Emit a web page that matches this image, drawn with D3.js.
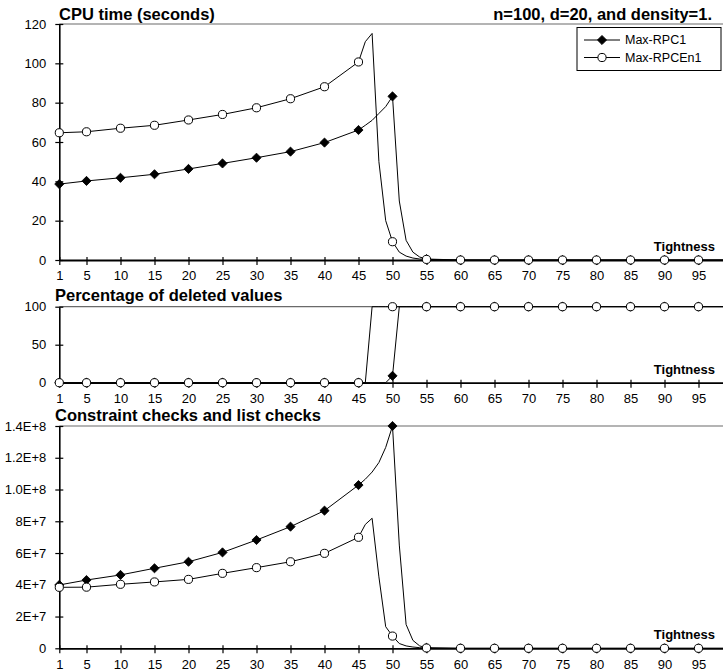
<!DOCTYPE html>
<html>
<head>
<meta charset="utf-8">
<script src="https://cdn.jsdelivr.net/npm/d3@7"></script>
<style>
  body { margin: 0; background: #fff; }
  svg { display: block; font-family: 'Liberation Sans', Arial, sans-serif; }
</style>
</head>
<body>
<svg id="chart"></svg>
<script>
const width = 723
const height = 672

/// data ////////////////////////////////
const seriesNames = ['Max-RPC1', 'Max-RPCEn1']
const tightness = [1, 5, 10, 15, 20, 25, 30, 35, 40, 45, 46, 47, 48, 49, 50, 51, 52, 53, 54, 55, 60, 65, 70, 75, 80, 85, 90, 95, 100]
const markerTightness = [1, 5, 10, 15, 20, 25, 30, 35, 40, 45, 50, 55, 60, 65, 70, 75, 80, 85, 90, 95]

const cpuRPC1 = [38.6, 40.2, 41.8, 43.6, 46.3, 49.1, 52, 55.1, 59.7, 66.1, 68.5, 71, 74.5, 78, 83.2, 30, 10, 4, 1.5, 0.5, 0, 0, 0, 0, 0, 0, 0, 0, 0]
const cpuRPCEn1 = [64.7, 65.2, 67, 68.5, 71.2, 74, 77.4, 82, 88.1, 100.7, 111, 115.2, 50, 20, 9.3, 4, 2, 1, 0.5, 0.3, 0, 0, 0, 0, 0, 0, 0, 0, 0]

const pctRPC1 = [0, 0, 0, 0, 0, 0, 0, 0, 0, 0, 0, 0, 0, 0, 9, 100, 100, 100, 100, 100, 100, 100, 100, 100, 100, 100, 100, 100, 100]
const pctRPCEn1 = [0, 0, 0, 0, 0, 0, 0, 0, 0, 0, 0, 100, 100, 100, 100, 100, 100, 100, 100, 100, 100, 100, 100, 100, 100, 100, 100, 100, 100]

const chkRPC1 = [3.99e7, 4.3e7, 4.62e7, 5.04e7, 5.45e7, 6.04e7, 6.82e7, 7.66e7, 8.67e7, 1.028e8, 1.065e8, 1.11e8, 1.17e8, 1.265e8, 1.4e8, 6.5e7, 1.5e7, 5e6, 1.5e6, 3e5, 0, 0, 0, 0, 0, 0, 0, 0, 0]
const chkRPCEn1 = [3.84e7, 3.85e7, 4.03e7, 4.18e7, 4.34e7, 4.72e7, 5.08e7, 5.45e7, 5.98e7, 6.99e7, 7.8e7, 8.19e7, 4.5e7, 1.36e7, 7.7e6, 3e6, 1.5e6, 8e5, 4e5, 2e5, 0, 0, 0, 0, 0, 0, 0, 0, 0]

const cpuTicks = [0, 20, 40, 60, 80, 100, 120]
const pctTicks = [0, 50, 100]
const chkTicks = [0, 2e7, 4e7, 6e7, 8e7, 1e8, 1.2e8, 1.4e8]
const chkTickLabels = ['0', '2E+7', '4E+7', '6E+7', '8E+7', '1.0E+8', '1.2E+8', '1.4E+8']

/// svg ////////////////////////////////
const svg = d3
  .select('#chart')
  .attr('width', width)
  .attr('height', height)
  .attr('viewBox', [0, 0, width, height])

svg.append('rect').attr('width', width).attr('height', height).attr('fill', '#fff')

/// shared x scale ////////////////////////////////
const xScale = d3.scaleLinear().domain([1, 100]).range([59.3, 732.5])

const panels = [
  { title: 'CPU time (seconds)', titleX: 59, titleY: 20, top: 24, bottom: 260, max: 120, ticks: cpuTicks, labels: null, a: cpuRPC1, b: cpuRPCEn1 },
  { title: 'Percentage of deleted values', titleX: 55, titleY: 301, top: 306.7, bottom: 382.7, max: 100, ticks: pctTicks, labels: null, a: pctRPC1, b: pctRPCEn1 },
  { title: 'Constraint checks and list checks', titleX: 55, titleY: 421, top: 426, bottom: 648.3, max: 1.4e8, ticks: chkTicks, labels: chkTickLabels, a: chkRPC1, b: chkRPCEn1 }
]

function drawDiamond(sel) {
  sel
    .attr('d', d3.symbol(d3.symbolSquare, 42)())
    .attr('fill', '#000')
    .attr('stroke', '#000')
    .attr('stroke-width', 0.8)
}

function drawCircle(sel) {
  sel
    .attr('d', d3.symbol(d3.symbolCircle, 52)())
    .attr('fill', '#fff')
    .attr('stroke', '#000')
    .attr('stroke-width', 1)
}

panels.forEach(p => {
  const yScale = d3.scaleLinear().domain([0, p.max]).range([p.bottom, p.top])
  const g = svg.append('g')

  // top border of plot area
  g.append('line')
    .attr('x1', xScale(1))
    .attr('x2', width)
    .attr('y1', p.top)
    .attr('y2', p.top)
    .attr('stroke', '#6a6a6a')
    .attr('stroke-width', 1.2)

  // y axis
  const yAxis = d3
    .axisLeft(yScale)
    .tickValues(p.ticks)
    .tickSizeInner(4)
    .tickSizeOuter(0)
    .tickPadding(9)
    .tickFormat((d, i) => (p.labels ? p.labels[i] : d))

  g.append('g')
    .attr('transform', `translate(${xScale(1)},0)`)
    .call(yAxis)
    .call(a => a.attr('font-family', null).attr('font-size', 13))
    .call(a => a.selectAll('.tick line').attr('x2', -4).attr('x1', 4).attr('stroke-width', 1.2))
    .call(a => a.select('.domain').attr('stroke-width', 1.6))
    .call(a => a.selectAll('text').attr('fill', '#000'))

  // x axis
  const xAxis = d3
    .axisBottom(xScale)
    .tickValues(markerTightness)
    .tickSizeInner(5)
    .tickSizeOuter(0)
    .tickPadding(6)

  g.append('g')
    .attr('transform', `translate(0,${p.bottom})`)
    .call(xAxis)
    .call(a => a.attr('font-family', null).attr('font-size', 13))
    .call(a => a.selectAll('.tick line').attr('y1', -3).attr('stroke-width', 1.2))
    .call(a => a.select('.domain').attr('stroke-width', 1.8))
    .call(a => a.selectAll('text').attr('fill', '#000'))

  // lines
  const line = d3
    .line()
    .x((d, i) => xScale(tightness[i]))
    .y(d => yScale(d))

  ;[p.a, p.b].forEach(values => {
    g.append('path')
      .datum(values)
      .attr('d', line)
      .attr('fill', 'none')
      .attr('stroke', '#000')
      .attr('stroke-width', 1)
  })

  // markers: diamonds first, circles on top
  const pts = (values) =>
    values
      .map((v, i) => ({ t: tightness[i], v: v }))
      .filter(d => markerTightness.includes(d.t))

  g.append('g')
    .selectAll('path')
    .data(pts(p.a))
    .enter()
    .append('path')
    .attr('transform', d => `translate(${xScale(d.t)},${yScale(d.v)}) rotate(45)`)
    .call(drawDiamond)

  g.append('g')
    .selectAll('path')
    .data(pts(p.b))
    .enter()
    .append('path')
    .attr('transform', d => `translate(${xScale(d.t)},${yScale(d.v)})`)
    .call(drawCircle)

  // titles
  g.append('text')
    .text(p.title)
    .attr('x', p.titleX)
    .attr('y', p.titleY)
    .attr('font-size', 16.5)
    .attr('font-weight', 'bold')

  g.append('text')
    .text('Tightness')
    .attr('x', 715)
    .attr('y', p.bottom - 9)
    .attr('text-anchor', 'end')
    .attr('font-size', 13)
    .attr('font-weight', 'bold')
})

/// header right ////////////////////////////////
svg
  .append('text')
  .text('n=100, d=20, and density=1.')
  .attr('x', 712)
  .attr('y', 20)
  .attr('text-anchor', 'end')
  .attr('font-size', 16.5)
  .attr('font-weight', 'bold')

/// legend ////////////////////////////////
const legend = svg.append('g').attr('transform', 'translate(577,27.5)')

legend
  .append('rect')
  .attr('width', 144)
  .attr('height', 43)
  .attr('fill', '#fff')
  .attr('stroke', '#000')
  .attr('stroke-width', 1)

seriesNames.forEach((name, i) => {
  const row = legend.append('g').attr('transform', `translate(0,${12.5 + i * 17.5})`)
  row
    .append('line')
    .attr('x1', 7)
    .attr('x2', 43)
    .attr('stroke', '#000')
    .attr('stroke-width', 1)
  row
    .append('path')
    .attr('transform', i === 0 ? 'translate(25,0) rotate(45)' : 'translate(25,0)')
    .call(i === 0 ? drawDiamond : drawCircle)
  row
    .append('text')
    .text(name)
    .attr('x', 48)
    .attr('dy', '0.35em')
    .attr('font-size', 12.5)
})
</script>
</body>
</html>
